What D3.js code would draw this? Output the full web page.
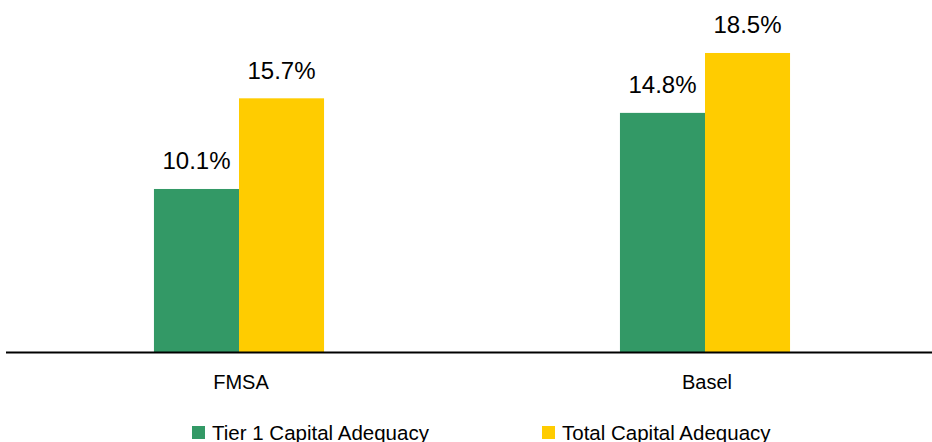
<!DOCTYPE html>
<html>
<head>
<meta charset="utf-8">
<script src="https://cdn.jsdelivr.net/npm/d3@7"></script>
<style>
  html, body { margin: 0; padding: 0; background: #fff; }
  svg { display: block; font-family: "Liberation Sans", Arial, sans-serif; }
</style>
</head>
<body>
<div id="chart"></div>
<script>
// Capital adequacy bar chart: FMSA vs Basel requirements
const categories = ['FMSA', 'Basel'];
const seriesNames = ['Tier 1 Capital Adequacy', 'Total Capital Adequacy'];
const tier1Values = [10.1, 14.8];
const totalValues = [15.7, 18.5];
const colors = ['#339966', '#ffcc00'];

const width = 932, height = 442;
const baseY = 352.5;

const svg = d3.select('#chart').append('svg')
    .attr('width', width)
    .attr('height', height);

const x0 = d3.scaleBand()
    .domain(categories)
    .range([6, 938])
    .paddingInner(0.635)
    .paddingOuter(0.3175);

const x1 = d3.scaleBand()
    .domain(seriesNames)
    .range([0, x0.bandwidth()]);

const y = d3.scaleLinear()
    .domain([0, 20])
    .range([baseY, baseY - 323.8]);

const rows = categories.map((c, i) => ({
    cat: c,
    vals: [tier1Values[i], totalValues[i]]
}));

const groups = svg.append('g').selectAll('g')
    .data(rows)
    .join('g')
    .attr('transform', d => `translate(${x0(d.cat)},0)`);

groups.selectAll('rect')
    .data(d => d.vals.map((v, k) => ({ key: seriesNames[k], v, k })))
    .join('rect')
    .attr('x', d => x1(d.key))
    .attr('y', d => y(d.v))
    .attr('width', x1.bandwidth())
    .attr('height', d => y(0) - y(d.v))
    .attr('fill', d => colors[d.k]);

groups.selectAll('text.val')
    .data(d => d.vals.map((v, k) => ({ key: seriesNames[k], v, k })))
    .join('text')
    .attr('class', 'val')
    .attr('x', d => x1(d.key) + x1.bandwidth() / 2)
    .attr('y', d => y(d.v) - 19.5)
    .attr('text-anchor', 'middle')
    .attr('font-size', 24)
    .attr('fill', '#000')
    .text(d => d.v.toFixed(1) + '%');

// axis baseline
svg.append('line')
    .attr('x1', 6)
    .attr('x2', width)
    .attr('y1', y(0))
    .attr('y2', y(0))
    .attr('stroke', '#000')
    .attr('stroke-width', 2);

// category labels
svg.append('g').selectAll('text')
    .data(categories)
    .join('text')
    .attr('x', d => x0(d) + x0.bandwidth() / 2 + 2)
    .attr('y', 389)
    .attr('text-anchor', 'middle')
    .attr('font-size', 20)
    .attr('fill', '#000')
    .text(d => d);

// legend (bottom edge clips the descenders, as in the original)
const legendX = [192, 542];
const legend = svg.append('g').selectAll('g')
    .data(seriesNames)
    .join('g')
    .attr('transform', (d, i) => `translate(${legendX[i]},426)`);

legend.append('rect')
    .attr('width', 13)
    .attr('height', 13)
    .attr('fill', (d, i) => colors[i]);

legend.append('text')
    .attr('x', 20)
    .attr('y', 14)
    .attr('font-size', 20.5)
    .attr('fill', '#000')
    .text(d => d);
</script>
</body>
</html>
